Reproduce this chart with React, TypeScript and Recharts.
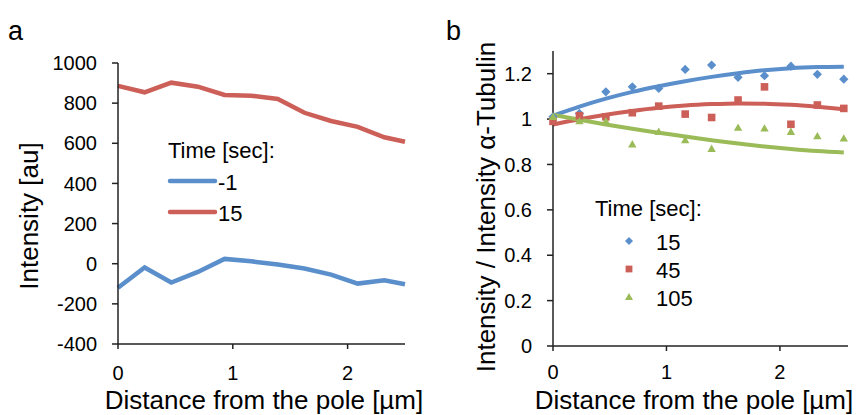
import { LineChart, Line, XAxis, YAxis, ComposedChart, Scatter } from 'recharts'

// panel a: raw intensity profiles
const distA = [0, 0.232, 0.464, 0.696, 0.928, 1.16, 1.392, 1.624, 1.856, 2.088, 2.32, 2.5]
const intMinus1 = [-120, -19, -94, -41, 24, 12, -4, -24, -54, -99, -82, -102]
const int15 = [886, 854, 902, 882, 841, 837, 821, 752, 711, 682, 630, 608]
const ticksAx = [0, 1, 2]
const ticksAy = [-400, -200, 0, 200, 400, 600, 800, 1000]
const timesA = ['-1', '15']

// panel b: ratio to alpha-tubulin, points and trend curves
const distB = [0, 0.233, 0.466, 0.699, 0.932, 1.165, 1.398, 1.631, 1.864, 2.097, 2.33, 2.563]
const ratio15 = [1.01, 1.025, 1.12, 1.142, 1.135, 1.219, 1.238, 1.184, 1.191, 1.233, 1.197, 1.176]
const ratio45 = [0.99, 1.015, 1.01, 1.028, 1.057, 1.022, 1.007, 1.084, 1.142, 0.977, 1.062, 1.047]
const ratio105 = [1.01, 0.991, 0.991, 0.889, 0.944, 0.907, 0.869, 0.962, 0.959, 0.944, 0.925, 0.915]
const trend15 = [1.015, 1.055, 1.09, 1.12, 1.145, 1.167, 1.186, 1.202, 1.215, 1.224, 1.229, 1.231]
const trend45 = [0.976, 0.999, 1.019, 1.036, 1.05, 1.06, 1.066, 1.069, 1.068, 1.063, 1.054, 1.043]
const trend105 = [1.019, 0.997, 0.976, 0.957, 0.94, 0.923, 0.907, 0.892, 0.879, 0.868, 0.859, 0.853]
const ticksBx = [0, 1, 2]
const ticksBy = [0, 0.2, 0.4, 0.6, 0.8, 1, 1.2]
const timesB = ['15', '45', '105']

const BLUE = '#5A8FCB'
const RED = '#CD5F59'
const GREEN = '#9BBB59'
const FONT = '"Liberation Sans", Arial, sans-serif'

const dataA = distA.map((x, i) => ({ x, m1: intMinus1[i], s15: int15[i] }))
const dataB = distB.map((x, i) => ({
  x,
  p15: ratio15[i],
  p45: ratio45[i],
  p105: ratio105[i],
  f15: trend15[i],
  f45: trend45[i],
  f105: trend105[i],
}))

const tickStyle = { fill: '#000', fontSize: 20, fontFamily: FONT }
const axisStyle = { stroke: '#222', strokeWidth: 1.5 }

function Diamond({ cx, cy, fill, r = 4.6 }: any) {
  return <path d={`M${cx},${cy - r}L${cx + r},${cy}L${cx},${cy + r}L${cx - r},${cy}Z`} fill={fill} />
}
function Square({ cx, cy, fill, r = 3.8 }: any) {
  return <rect x={cx - r} y={cy - r} width={r * 2} height={r * 2} fill={fill} />
}
function Triangle({ cx, cy, fill, r = 4.2 }: any) {
  return <path d={`M${cx},${cy - r}L${cx + r},${cy + r * 0.75}L${cx - r},${cy + r * 0.75}Z`} fill={fill} />
}

const shapesB = [Diamond, Square, Triangle]
const colorsB = [BLUE, RED, GREEN]
const colorsA = [BLUE, RED]

export default function App() {
  return (
    <div style={{ position: 'absolute', left: 0, top: 0, width: 865, height: 415, background: '#fff', fontFamily: FONT }}>
      <div style={{ position: 'absolute', left: 0, top: 0 }}>
        <LineChart width={430} height={415} data={dataA} margin={{ top: 63, right: 25, bottom: 0, left: 0 }}>
          <XAxis
            dataKey="x"
            type="number"
            domain={[0, 2.5]}
            ticks={ticksAx}
            height={71}
            tickSize={5}
            tickMargin={17}
            tick={tickStyle}
            axisLine={axisStyle}
            tickLine={axisStyle}
          />
          <YAxis
            type="number"
            domain={[-400, 1000]}
            ticks={ticksAy}
            width={118}
            tickSize={6}
            tickMargin={15}
            tick={tickStyle}
            axisLine={axisStyle}
            tickLine={axisStyle}
          />
          <Line type="linear" dataKey="m1" stroke={BLUE} strokeWidth={4.5} dot={false} isAnimationActive={false} />
          <Line type="linear" dataKey="s15" stroke={RED} strokeWidth={4.5} dot={false} isAnimationActive={false} />
        </LineChart>
      </div>

      <div style={{ position: 'absolute', left: 430, top: 0 }}>
        <ComposedChart width={435} height={415} data={dataB} margin={{ top: 51, right: 17, bottom: 0, left: 0 }}>
          <XAxis
            dataKey="x"
            type="number"
            domain={[0, 2.6]}
            ticks={ticksBx}
            height={69}
            tickSize={5}
            tickMargin={14}
            tick={tickStyle}
            axisLine={axisStyle}
            tickLine={axisStyle}
          />
          <YAxis
            type="number"
            domain={[0, 1.3]}
            ticks={ticksBy}
            width={123}
            tickSize={6}
            tickMargin={15}
            tick={tickStyle}
            axisLine={axisStyle}
            tickLine={axisStyle}
          />
          <Line type="monotone" dataKey="f15" stroke={BLUE} strokeWidth={4} dot={false} isAnimationActive={false} />
          <Line type="monotone" dataKey="f45" stroke={RED} strokeWidth={4} dot={false} isAnimationActive={false} />
          <Line type="monotone" dataKey="f105" stroke={GREEN} strokeWidth={4} dot={false} isAnimationActive={false} />
          <Scatter dataKey="p15" fill={BLUE} shape={<Diamond />} isAnimationActive={false} />
          <Scatter dataKey="p45" fill={RED} shape={<Square />} isAnimationActive={false} />
          <Scatter dataKey="p105" fill={GREEN} shape={<Triangle />} isAnimationActive={false} />
        </ComposedChart>
      </div>

      {/* titles, panel letters, legends */}
      <svg width={865} height={415} style={{ position: 'absolute', left: 0, top: 0, pointerEvents: 'none' }}>
        <g fontFamily={FONT} fill="#000">
          <text x={8} y={40} fontSize={27}>a</text>
          <text x={446} y={40} fontSize={27}>b</text>

          <text x={264} y={409} fontSize={26} textAnchor="middle">Distance from the pole [µm]</text>
          <text x={694} y={409} fontSize={26} textAnchor="middle">Distance from the pole [µm]</text>

          <text transform="translate(38,216) rotate(-90)" fontSize={26} textAnchor="middle">Intensity [au]</text>
          <text transform="translate(495,207) rotate(-90)" fontSize={26} textAnchor="middle">
            Intensity / Intensity α-Tubulin
          </text>

          <text x={168} y={158} fontSize={22}>Time [sec]:</text>
          {timesA.map((t, i) => (
            <g key={t}>
              <line x1={170} x2={215} y1={181 + i * 31} y2={181 + i * 31} stroke={colorsA[i]} strokeWidth={4.5} strokeLinecap="round" />
              <text x={218} y={190 + i * 31} fontSize={22}>{t}</text>
            </g>
          ))}

          <text x={595} y={216} fontSize={22}>Time [sec]:</text>
          {timesB.map((t, i) => {
            const Shape = shapesB[i]
            return (
              <g key={t}>
                <Shape cx={629} cy={241 + i * 28} fill={colorsB[i]} r={i === 1 ? 3.4 : 4} />
                <text x={656} y={250 + i * 28} fontSize={22}>{t}</text>
              </g>
            )
          })}
        </g>
      </svg>
    </div>
  )
}
